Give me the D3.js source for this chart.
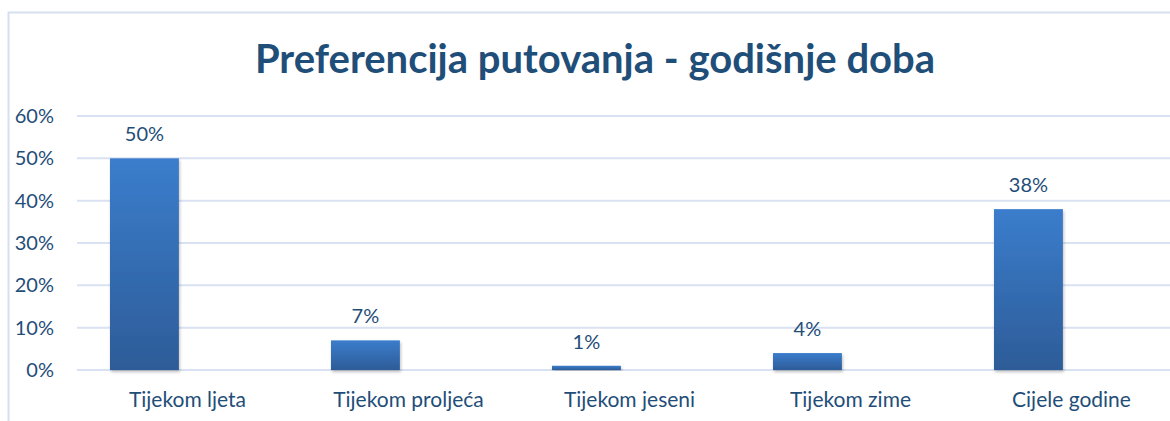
<!DOCTYPE html>
<meta charset="utf-8">
<style>
  body { margin: 0; background: #fff; }
  text { font-family: Lato, "Open Sans", sans-serif; fill: #1f4e79; }
</style>
<script src="https://d3js.org/d3.v7.min.js"></script>
<div id="chart"></div>
<script>
  // data
  var categories = ["Tijekom ljeta", "Tijekom proljeća", "Tijekom jeseni", "Tijekom zime", "Cijele godine"]
  var values = [50, 7, 1, 4, 38]
  var yTicks = [0, 10, 20, 30, 40, 50, 60]

  var width = 1170, height = 421
  var plotLeft = 77, plotRight = 1182, plotTop = 116, plotBottom = 370

  var svg = d3.select("#chart").append("svg")
    .attr("width", width)
    .attr("height", height)

  var defs = svg.append("defs")
  var grad = defs.append("linearGradient")
    .attr("id", "barGrad")
    .attr("x1", 0).attr("y1", 0).attr("x2", 0).attr("y2", 1)
  grad.append("stop").attr("offset", "0%").attr("stop-color", "#3b7dcc")
  grad.append("stop").attr("offset", "100%").attr("stop-color", "#2d5c98")

  var shadow = defs.append("filter").attr("id", "shadow")
    .attr("x", "-10%").attr("y", "-10%").attr("width", "130%").attr("height", "130%")
  shadow.append("feDropShadow")
    .attr("dx", 1).attr("dy", 2).attr("stdDeviation", 1.5)
    .attr("flood-color", "#000").attr("flood-opacity", 0.25)

  // chart frame
  svg.append("path")
    .attr("d", "M8.5," + height + "V12.5H" + width)
    .attr("fill", "none")
    .attr("stroke", "#d6e0ef")
    .attr("stroke-width", 2)

  // category bands; the bar sits in the left slot of each band (second series slot is empty)
  var x = d3.scaleBand()
    .domain(categories)
    .range([plotLeft, plotRight])
    .padding(0)

  var slot = d3.scaleBand()
    .domain(["shown", "empty"])
    .range([0, x.bandwidth()])
    .paddingInner(0.2)
    .paddingOuter(0.383)

  var y = d3.scaleLinear()
    .domain([0, 60])
    .range([plotBottom, plotTop])

  // gridlines
  svg.selectAll(".grid")
    .data(yTicks)
    .enter()
    .append("line")
      .attr("x1", plotLeft)
      .attr("x2", width)
      .attr("y1", function(d) { return y(d) })
      .attr("y2", function(d) { return y(d) })
      .attr("stroke", "#d9e2f2")
      .attr("stroke-width", 2)

  // y labels
  svg.selectAll(".ylab")
    .data(yTicks)
    .enter()
    .append("text")
      .attr("x", 54)
      .attr("y", function(d) { return y(d) + 7 })
      .attr("text-anchor", "end")
      .style("font-size", "20px")
      .text(function(d) { return d + "%" })

  function barX(i) { return x(categories[i]) + slot("shown") }

  // bars
  svg.selectAll(".bar")
    .data(values)
    .enter()
    .append("rect")
      .attr("x", function(d, i) { return barX(i) })
      .attr("y", function(d) { return y(d) })
      .attr("width", slot.bandwidth())
      .attr("height", function(d) { return y(0) - y(d) })
      .attr("fill", "url(#barGrad)")
      .attr("filter", "url(#shadow)")

  // value labels
  svg.selectAll(".val")
    .data(values)
    .enter()
    .append("text")
      .attr("x", function(d, i) { return barX(i) + slot.bandwidth() / 2 })
      .attr("y", function(d) { return y(d) - 17 })
      .attr("text-anchor", "middle")
      .style("font-size", "20px")
      .text(function(d) { return d + "%" })

  // category labels
  svg.selectAll(".cat")
    .data(categories)
    .enter()
    .append("text")
      .attr("x", function(d) { return x(d) + x.bandwidth() / 2 })
      .attr("y", 407)
      .attr("text-anchor", "middle")
      .style("font-size", "21px")
      .text(function(d) { return d })

  // title
  svg.append("text")
    .attr("x", 595)
    .attr("y", 73)
    .attr("text-anchor", "middle")
    .style("font-size", "40px")
    .style("font-weight", "bold")
    .text("Preferencija putovanja - godišnje doba")
</script>
